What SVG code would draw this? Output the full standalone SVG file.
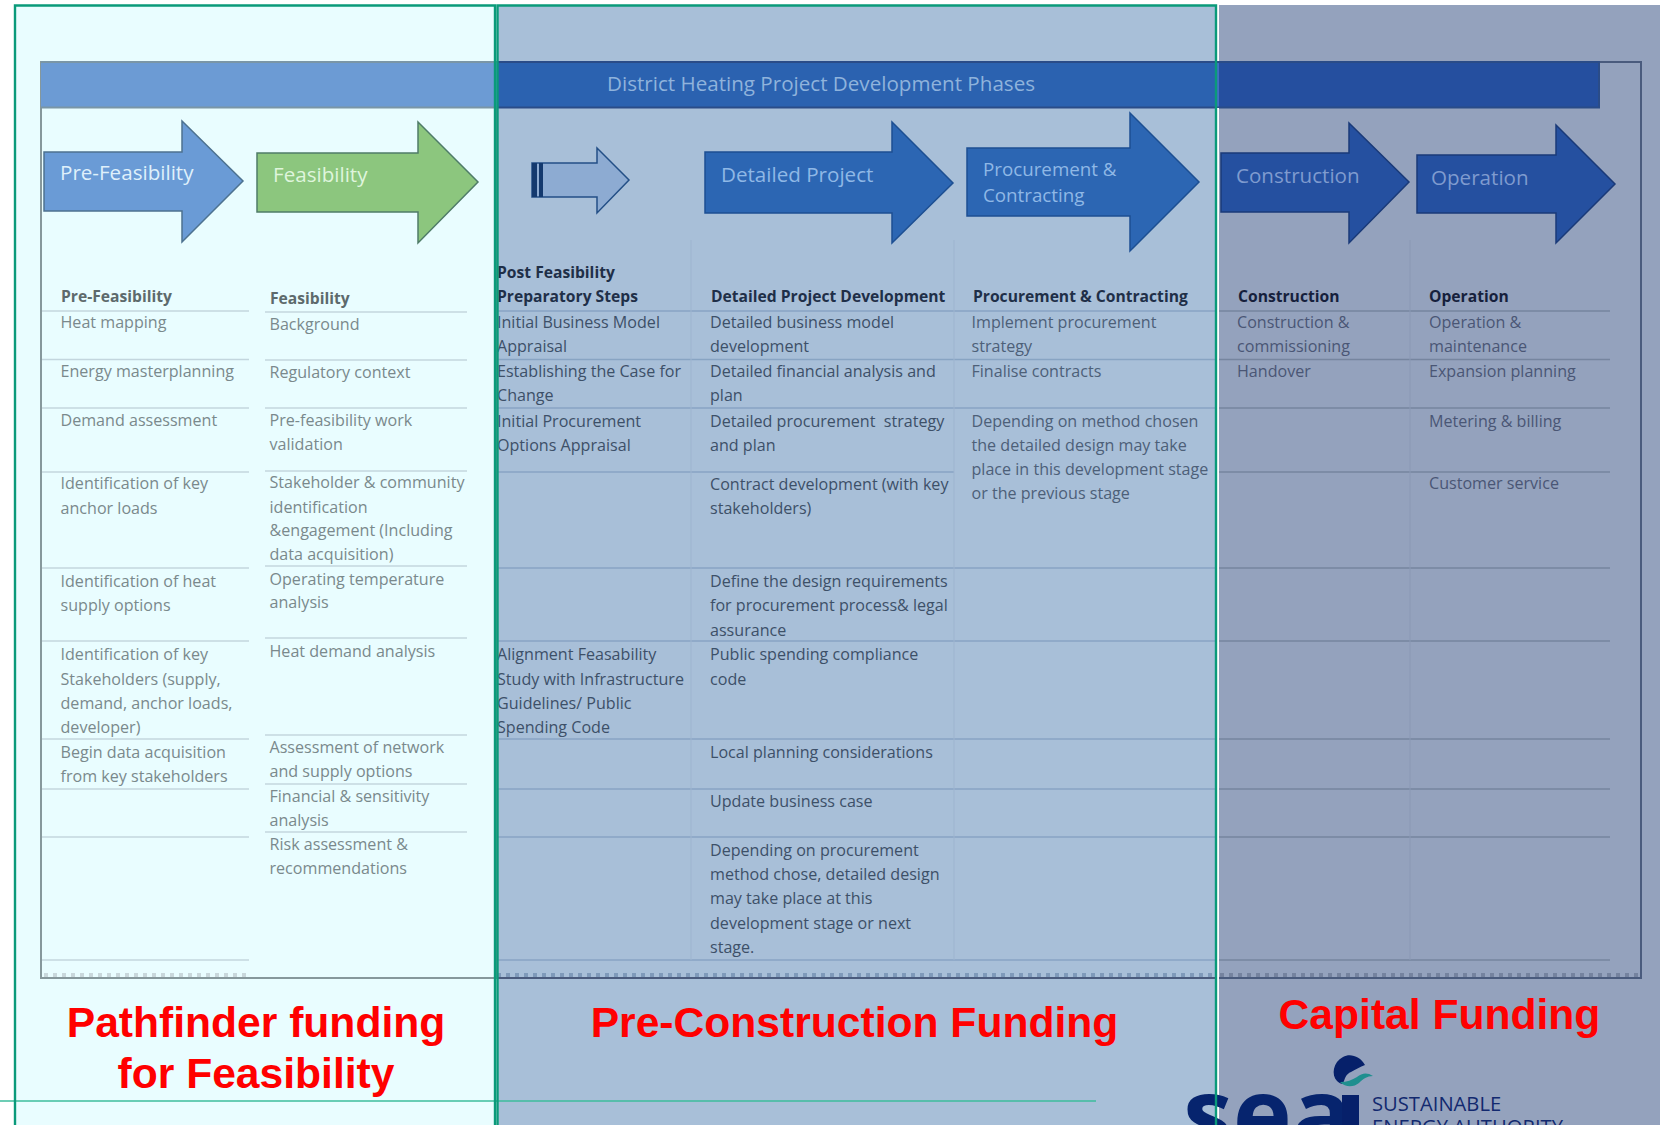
<svg xmlns="http://www.w3.org/2000/svg" width="1668" height="1125" viewBox="0 0 1668 1125">
<style>
text{font-family:"Open Sans","Noto Sans",sans-serif;font-size:16.1px}
.a{fill:#7a898c}
.b{fill:#3d5068}
.b2{fill:#4d6078}
.c{fill:#4a5675}
.h{font-weight:700;font-size:15.65px}
.ha{fill:#5d6a6c}
.hb{fill:#1f2f48}
.hc{fill:#161f3c}
.lbl{font-size:20.6px}
.lbs{font-size:18.75px}
.fund{font-family:"Liberation Sans",Arial,sans-serif;font-weight:700;fill:#ff0000;font-size:42.6px;text-anchor:middle}
.la{stroke:#c3d6de;stroke-width:1.3}
.lb{stroke:#88a4c3;stroke-width:1.3}
.lc{stroke:#76859f;stroke-width:1.3}
.v{stroke:#9db4cf;stroke-width:1}
.v2{stroke:#8a98b4;stroke-width:1}
.ar{stroke-width:1.5;stroke-linejoin:miter}
.frame{fill:none;stroke:#0a9a7a;stroke-width:2.4}
</style>
<rect width="1668" height="1125" fill="#ffffff"/>
<g id="backgrounds">
<rect x="15" y="5" width="481" height="1120" fill="#e9fdff"/>
<rect x="497" y="5" width="719" height="1120" fill="#a8bfd8"/>
<rect x="1219" y="5" width="441" height="1120" fill="#94a2bd"/>
</g>
<g id="table-frame">
<rect x="41" y="62" width="456" height="916" fill="none" stroke="#86989c" stroke-width="2"/>
<path d="M497 62H1641V978H497" fill="none" stroke="#4a5b7d" stroke-width="2"/>
<rect x="41" y="62" width="456" height="46" fill="#6c9bd4"/>
<rect x="497" y="62" width="719" height="46" fill="#2b62b0"/>
<rect x="1216" y="62" width="3" height="46" fill="#3f6fc4"/>
<rect x="1219" y="62" width="380" height="46" fill="#254f9f"/>
<path d="M41 62H497M41 107.500H497" fill="none" stroke="#7a96a6" stroke-width="2"/>
<path d="M497 62H1599V107.500H497" fill="none" stroke="#2a4c88" stroke-width="2"/>
<text id="title" x="607" y="91" class="lbl" fill="#8fb3dc">District Heating Project Development Phases</text>
</g>
<g id="table-lines">
<path class="la" d="M42 311H249M42 359.500H249M42 408H249M42 472H249M42 568H249M42 641H249M42 739H249M42 789H249M42 837H249M42 960H249"/>
<path class="la" d="M265 312H467M265 360H467M265 408H467M265 471H467M265 566H467M265 638H467M265 735H467M265 784H467M265 832H467"/>
<path class="lb" d="M497 311H1216M497 359.500H1216M497 408H1216M497 472H954M497 568H1216M497 641H1216M497 739H1216M497 789H1216M497 837H1216M497 960H1216"/>
<path class="lc" d="M1216 311H1610M1216 359.500H1610M1216 408H1610M1216 472H1610M1216 568H1610M1216 641H1610M1216 739H1610M1216 789H1610M1216 837H1610M1216 960H1610"/>
<path class="v" d="M691 240V960M954 240V960"/>
<path class="v2" d="M1410 240V960"/>
<path d="M44 975H249" stroke="#c9d8dc" stroke-width="4" stroke-dasharray="4 5" fill="none"/>
<path d="M497 975H1216" stroke="#7f9aba" stroke-width="4" stroke-dasharray="4 5" fill="none"/>
<path d="M1220 975H1640" stroke="#75839f" stroke-width="4" stroke-dasharray="4 5" fill="none"/>
</g>
<g id="arrow-pre-feasibility">
<polygon class="ar" points="44,152 182,152 182,121 243,181 182,242 182,211 44,211" fill="#6a9bd6" stroke="#4d7290"/>
<text x="60" y="180" class="lbl" fill="#dff0fb">Pre-Feasibility</text>
</g>
<g id="arrow-feasibility">
<polygon class="ar" points="257,153 418,153 418,122 478,182 418,243 418,212 257,212" fill="#8cc67e" stroke="#4f7c68"/>
<text x="273" y="182" class="lbl" fill="#dff5dc">Feasibility</text>
</g>
<g id="arrow-post-feasibility">
<polygon class="ar" points="532,163 597,163 597,148 629,180 597,213 597,197 532,197" fill="#8dabd2" stroke="#234f86"/>
<rect x="532" y="163" width="5" height="34" fill="#14396e"/>
<rect x="539" y="163" width="4" height="34" fill="#14396e"/>
</g>
<g id="arrow-detailed-project">
<polygon class="ar" points="705,152 892,152 892,122 953,183 892,243 892,213 705,213" fill="#2c66b3" stroke="#1d4f92"/>
<text x="721" y="182" class="lbl" fill="#8fb8e6">Detailed Project</text>
</g>
<g id="arrow-procurement">
<polygon class="ar" points="967,148 1130,148 1130,113 1199,182 1130,251 1130,216 967,216" fill="#2c66b3" stroke="#1d4f92"/>
<text x="983" y="176" class="lbs" fill="#8fb8e6">Procurement &amp;</text>
<text x="983" y="202" class="lbs" fill="#8fb8e6">Contracting</text>
</g>
<g id="arrow-construction">
<polygon class="ar" points="1221,153 1349,153 1349,123 1409,182 1349,243 1349,212 1221,212" fill="#2550a0" stroke="#1a3a78"/>
<text x="1236" y="183" class="lbl" fill="#7f9bcf">Construction</text>
</g>
<g id="arrow-operation">
<polygon class="ar" points="1417,155 1556,155 1556,125 1615,184 1556,243 1556,213 1417,213" fill="#2550a0" stroke="#1a3a78"/>
<text x="1431" y="185" class="lbl" fill="#7f9bcf">Operation</text>
</g>
<g id="col-pre-feasibility" class="a">
<text x="61" y="302" class="h ha">Pre-Feasibility</text>
<text x="60.500" y="328">Heat mapping</text>
<text x="60.500" y="377">Energy masterplanning</text>
<text x="60.500" y="426">Demand assessment</text>
<text x="60.500" y="489">Identification of key</text>
<text x="60.500" y="514">anchor loads</text>
<text x="60.500" y="587">Identification of heat</text>
<text x="60.500" y="611">supply options</text>
<text x="60.500" y="660">Identification of key</text>
<text x="60.500" y="685">Stakeholders (supply,</text>
<text x="60.500" y="709">demand, anchor loads,</text>
<text x="60.500" y="733">developer)</text>
<text x="60.500" y="758">Begin data acquisition</text>
<text x="60.500" y="782">from key stakeholders</text>
</g>
<g id="col-feasibility" class="a">
<text x="270" y="304" class="h ha">Feasibility</text>
<text x="269.500" y="330">Background</text>
<text x="269.500" y="378">Regulatory context</text>
<text x="269.500" y="426">Pre-feasibility work</text>
<text x="269.500" y="450">validation</text>
<text x="269.500" y="488">Stakeholder &amp; community</text>
<text x="269.500" y="513">identification</text>
<text x="269.500" y="536">&amp;engagement (Including</text>
<text x="269.500" y="560">data acquisition)</text>
<text x="269.500" y="585">Operating temperature</text>
<text x="269.500" y="608">analysis</text>
<text x="269.500" y="657">Heat demand analysis</text>
<text x="269.500" y="753">Assessment of network</text>
<text x="269.500" y="777">and supply options</text>
<text x="269.500" y="802">Financial &amp; sensitivity</text>
<text x="269.500" y="826">analysis</text>
<text x="269.500" y="850">Risk assessment &amp;</text>
<text x="269.500" y="874">recommendations</text>
</g>
<g id="col-post-feasibility" class="b">
<text x="497" y="278" class="h hb">Post Feasibility</text>
<text x="497" y="302" class="h hb">Preparatory Steps</text>
<text x="497" y="328">Initial Business Model</text>
<text x="497" y="352">Appraisal</text>
<text x="497" y="377">Establishing the Case for</text>
<text x="497" y="401">Change</text>
<text x="497" y="427">Initial Procurement</text>
<text x="497" y="451">Options Appraisal</text>
<text x="497" y="660">Alignment Feasability</text>
<text x="497" y="685">Study with Infrastructure</text>
<text x="497" y="709">Guidelines/ Public</text>
<text x="497" y="733">Spending Code</text>
</g>
<g id="col-detailed" class="b">
<text x="711" y="302" class="h hb">Detailed Project Development</text>
<text x="710" y="328">Detailed business model</text>
<text x="710" y="352">development</text>
<text x="710" y="377">Detailed financial analysis and</text>
<text x="710" y="401">plan</text>
<text x="710" y="427" xml:space="preserve">Detailed procurement  strategy</text>
<text x="710" y="451">and plan</text>
<text x="710" y="490">Contract development (with key</text>
<text x="710" y="514">stakeholders)</text>
<text x="710" y="587">Define the design requirements</text>
<text x="710" y="611">for procurement process&amp; legal</text>
<text x="710" y="636">assurance</text>
<text x="710" y="660">Public spending compliance</text>
<text x="710" y="685">code</text>
<text x="710" y="758">Local planning considerations</text>
<text x="710" y="807">Update business case</text>
<text x="710" y="856">Depending on procurement</text>
<text x="710" y="880">method chose, detailed design</text>
<text x="710" y="904">may take place at this</text>
<text x="710" y="929">development stage or next</text>
<text x="710" y="953">stage.</text>
</g>
<g id="col-procurement" class="b2">
<text x="973" y="302" class="h hb">Procurement &amp; Contracting</text>
<text x="971.500" y="328">Implement procurement</text>
<text x="971.500" y="352">strategy</text>
<text x="971.500" y="377">Finalise contracts</text>
<text x="971.500" y="427">Depending on method chosen</text>
<text x="971.500" y="451">the detailed design may take</text>
<text x="971.500" y="475">place in this development stage</text>
<text x="971.500" y="499">or the previous stage</text>
</g>
<g id="col-construction" class="c">
<text x="1238" y="302" class="h hc">Construction</text>
<text x="1237" y="328">Construction &amp;</text>
<text x="1237" y="352">commissioning</text>
<text x="1237" y="377">Handover</text>
</g>
<g id="col-operation" class="c">
<text x="1429" y="302" class="h hc">Operation</text>
<text x="1429" y="328">Operation &amp;</text>
<text x="1429" y="352">maintenance</text>
<text x="1429" y="377">Expansion planning</text>
<text x="1429" y="427">Metering &amp; billing</text>
<text x="1429" y="489">Customer service</text>
</g>
<g id="funding-labels">
<text class="fund" x="256" y="1037">Pathfinder funding</text>
<text class="fund" x="256" y="1088">for Feasibility</text>
<text class="fund" x="854.500" y="1037">Pre-Construction Funding</text>
<text class="fund" x="1439.500" y="1029">Capital Funding</text>
</g>
<rect id="strip" x="1217" y="108" width="2" height="1017" fill="#ffffff"/>
<g id="logo">
<text x="1183" y="1150" style="font-size:100px;font-weight:700;font-family:'Open Sans',sans-serif" fill="#06246e">sea</text>
<rect x="1342" y="1095" width="17" height="30" fill="#06206a"/>
<path d="M1365 1065C1360 1056 1350 1053 1343 1057C1333 1062 1331 1075 1337 1081C1339 1083 1341 1084 1343 1084C1345 1078 1346 1074 1351 1072C1356 1069 1360 1067 1365 1065Z" fill="#06206a"/>
<path d="M1340 1082C1347 1082 1352 1080 1357 1077C1362 1073 1367 1072 1373 1076C1367 1076 1363 1079 1359 1083C1354 1087 1346 1088 1340 1082Z" fill="#1f8f8f"/>
<text x="1372" y="1111" style="font-size:20.2px" fill="#12296f">SUSTAINABLE</text>
<text x="1372" y="1134" style="font-size:20.2px" fill="#12296f">ENERGY AUTHORITY</text>
</g>
<g id="funding-frames">
<path d="M0 1101H1096" stroke="#3dbd9c" stroke-width="1.5" fill="none"/>
<path class="frame" d="M15 1125V5.500H495V1125"/>
<path class="frame" d="M497.500 1125V5.500H1216V1125"/>
</g>
</svg>
